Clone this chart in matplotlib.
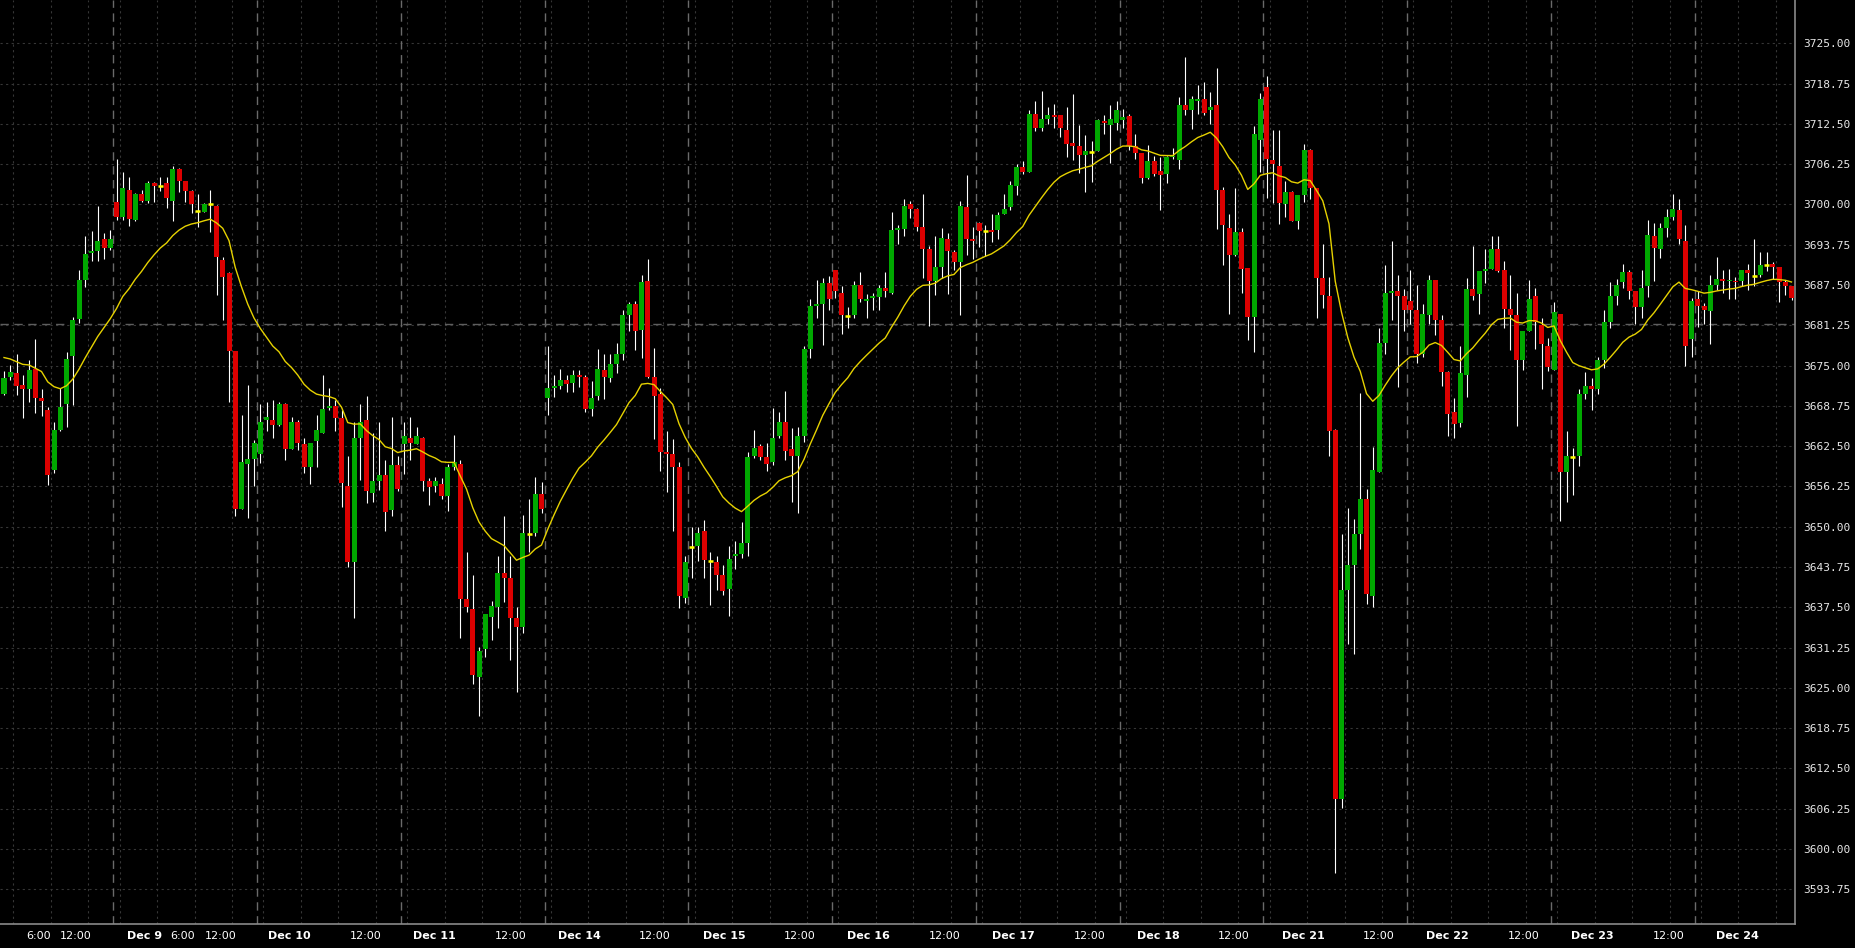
import numpy as np
import matplotlib
matplotlib.use("Agg")
import matplotlib.pyplot as plt

# hourly bars (index 0 = first bar at the left edge)
opens = [
    3670.65, 3673.3, 3673.8, 3671.95, 3671.4, 3674.4, 3670.0, 3668.1, 3658.8, 3665.0,
    3669.05, 3676.5, 3682.2, 3688.3, 3692.4, 3692.8, 3694.6, 3693.3, 3700.4, 3698.1,
    3702.2, 3697.6, 3701.6, 3700.5, 3703.4, 3702.8, 3703.4, 3700.5, 3705.55, 3703.6,
    3702.1, 3699.0, 3698.9, 3700.0, 3699.8, 3691.4, 3689.3, 3677.2, 3652.8, 3659.75,
    3660.5, 3661.3, 3666.6, 3666.6, 3665.8, 3669.05, 3662.1, 3666.3, 3662.85, 3659.3,
    3663.3, 3664.6, 3668.4, 3668.8, 3666.9, 3656.3, 3644.6, 3663.8, 3666.6, 3655.3,
    3657.1, 3658.05, 3652.6, 3659.6, 3662.85, 3663.7, 3662.85, 3663.8, 3657.1, 3656.3,
    3656.7, 3654.8, 3659.2, 3659.75, 3638.8, 3637.25, 3626.75, 3631.05, 3636.05, 3637.6,
    3642.9, 3642.1, 3635.9, 3634.5, 3648.9, 3649.0, 3655.1, 3670.0, 3671.6, 3671.9,
    3672.8, 3672.35, 3673.5, 3673.25, 3668.3, 3670.35, 3674.3, 3673.1, 3675.25, 3676.8,
    3682.85, 3684.55, 3680.5, 3688.1, 3673.3, 3670.6, 3661.65, 3661.3, 3659.2, 3638.9,
    3646.9, 3647.05, 3649.35, 3644.75, 3644.55, 3642.5, 3640.35, 3645.4, 3645.8, 3647.55,
    3661.0, 3662.5, 3660.8, 3660.1, 3664.1, 3666.25, 3662.0, 3660.9, 3664.1, 3677.6,
    3684.3, 3684.55, 3687.8, 3689.8, 3686.2, 3682.75, 3682.85, 3687.5, 3685.1, 3685.55,
    3685.6, 3687.05, 3686.3, 3696.0, 3696.15, 3700.1, 3699.3, 3696.45, 3693.1, 3688.2,
    3690.35, 3694.6, 3692.6, 3691.1, 3699.55, 3694.65, 3697.1, 3695.95, 3696.05, 3696.05,
    3698.5, 3699.65, 3702.9, 3705.75, 3705.0, 3714.0, 3711.9, 3713.25, 3713.9, 3713.9,
    3711.55, 3709.5, 3709.1, 3707.6, 3708.2, 3708.35, 3712.85, 3712.4, 3712.7, 3713.1,
    3713.8, 3709.0, 3708.0, 3704.1, 3706.8, 3705.2, 3704.8, 3707.3, 3706.9, 3715.4,
    3714.6, 3716.0, 3716.35, 3714.6, 3715.4, 3702.2, 3696.4, 3692.2, 3695.8, 3690.2,
    3682.6, 3710.0, 3718.2, 3706.9, 3705.9, 3700.0, 3702.0, 3697.5, 3701.45, 3708.5,
    3702.5, 3688.6, 3685.8, 3665.0, 3607.8, 3640.2, 3644.1, 3648.85, 3654.3, 3639.3,
    3658.55, 3678.55, 3686.2, 3686.55, 3685.8, 3685.0, 3683.6, 3676.8, 3682.85, 3688.3,
    3682.1, 3674.05, 3667.75, 3666.15, 3673.55, 3686.9, 3686.1, 3689.6, 3690.0, 3693.1,
    3689.8, 3683.8, 3682.85, 3675.9, 3680.4, 3685.8, 3681.3, 3678.0, 3674.3, 3683.0,
    3658.55, 3660.85, 3660.9, 3670.6, 3671.85, 3671.4, 3675.85, 3681.8, 3685.85, 3687.9,
    3689.5, 3686.6, 3684.1, 3687.35, 3695.1, 3693.1, 3696.4, 3698.05, 3699.1, 3694.3,
    3679.1, 3685.3, 3684.3, 3683.4, 3687.5, 3688.5, 3688.05, 3688.2, 3688.2, 3689.8,
    3688.9, 3689.05, 3690.6, 3690.75, 3690.25, 3687.9, 3687.35,
]
highs = [
    3674.1, 3675.1, 3676.8, 3673.5, 3675.9, 3679.2, 3671.3, 3668.6, 3666.3, 3671.5,
    3677.1, 3682.6, 3689.8, 3695.1, 3695.9, 3699.8, 3695.5, 3696.0, 3707.0, 3705.0,
    3704.3, 3701.8, 3702.2, 3703.6, 3703.5, 3704.3, 3704.3, 3705.9, 3705.6, 3703.7,
    3702.2, 3701.6, 3700.2, 3702.2, 3699.9, 3691.9, 3689.5, 3677.3, 3667.3, 3672.0,
    3663.4, 3669.05, 3669.4, 3669.6, 3669.4, 3669.2, 3667.0, 3666.6, 3663.7, 3663.0,
    3667.3, 3673.5, 3671.5, 3669.6, 3668.1, 3661.0, 3666.2, 3669.05, 3670.3, 3664.6,
    3666.2, 3660.4, 3667.0, 3661.0, 3666.3, 3667.0, 3665.5, 3664.0, 3657.5, 3657.7,
    3657.5, 3659.7, 3664.2, 3660.35, 3646.1, 3642.5, 3631.3, 3636.5, 3638.5, 3645.4,
    3651.6, 3645.5, 3637.6, 3651.8, 3654.3, 3657.7, 3656.9, 3678.0, 3673.5, 3674.4,
    3673.5, 3674.3, 3674.3, 3673.5, 3672.65, 3677.6, 3676.8, 3676.8, 3678.5, 3683.6,
    3684.8, 3685.0, 3689.05, 3691.5, 3677.7, 3671.5, 3664.85, 3663.6, 3660.0, 3645.5,
    3650.0, 3650.0, 3651.05, 3646.1, 3645.5, 3644.05, 3647.05, 3647.8, 3650.75, 3661.6,
    3665.0, 3662.9, 3663.05, 3668.5, 3667.8, 3671.1, 3665.3, 3665.4, 3678.05, 3685.4,
    3688.3, 3688.55, 3688.9, 3689.85, 3687.35, 3684.05, 3688.1, 3689.5, 3686.1, 3686.3,
    3687.5, 3689.5, 3698.9, 3696.8, 3700.85, 3700.5, 3699.4, 3701.7, 3693.55, 3695.1,
    3696.3, 3695.5, 3693.0, 3700.5, 3704.55, 3696.5, 3697.3, 3696.8, 3698.5, 3698.8,
    3701.6, 3703.6, 3706.2, 3706.8, 3714.65, 3716.05, 3717.6, 3715.1, 3715.6, 3713.95,
    3715.1, 3717.1, 3712.3, 3710.8, 3709.85, 3713.2, 3713.9, 3715.4, 3716.05, 3714.8,
    3714.1, 3710.9, 3708.0, 3709.2, 3707.5, 3707.3, 3707.5, 3708.7, 3716.7, 3722.8,
    3716.9, 3718.6, 3718.95, 3717.4, 3721.1, 3702.7, 3698.5, 3702.5, 3696.3, 3690.2,
    3712.2, 3717.3, 3719.9, 3711.5, 3711.5, 3703.7, 3702.1, 3701.5, 3709.4, 3708.6,
    3702.6, 3693.9, 3688.7, 3665.1, 3648.85, 3652.9, 3651.2, 3670.7, 3655.85, 3662.3,
    3680.9, 3690.6, 3694.3, 3689.05, 3686.9, 3689.8, 3687.5, 3684.5, 3689.05, 3688.35,
    3682.85, 3674.1, 3670.0, 3678.0, 3688.6, 3693.55, 3689.6, 3693.1, 3695.15, 3695.15,
    3691.2, 3689.05, 3686.2, 3680.4, 3688.3, 3687.1, 3682.4, 3679.3, 3684.8, 3683.0,
    3664.85, 3662.2, 3671.3, 3674.05, 3673.0, 3676.4, 3683.7, 3687.9, 3688.5, 3690.75,
    3689.8, 3686.6, 3689.8, 3697.6, 3697.1, 3697.1, 3699.3, 3701.7, 3700.85, 3696.8,
    3685.45, 3686.6, 3684.65, 3689.05, 3691.8, 3689.8, 3690.0, 3688.7, 3689.85, 3690.75,
    3694.6, 3692.7, 3692.7, 3691.1, 3690.3, 3688.3, 3687.4,
]
lows = [
    3670.5, 3672.7, 3670.4, 3666.9, 3669.3, 3667.7, 3667.2, 3656.4, 3658.4, 3664.8,
    3665.4, 3668.9, 3681.6, 3687.2, 3691.3, 3691.3, 3691.5, 3692.9, 3697.6, 3697.6,
    3696.7, 3697.4, 3700.4, 3700.3, 3700.4, 3702.1, 3699.4, 3697.4, 3702.0, 3700.4,
    3698.7, 3696.5, 3698.8, 3695.8, 3686.0, 3682.0, 3669.4, 3651.7, 3652.7, 3651.4,
    3656.3, 3659.95, 3664.9, 3663.7, 3665.7, 3660.3, 3662.0, 3661.9, 3658.3, 3656.6,
    3659.2, 3664.5, 3668.1, 3664.9, 3653.1, 3643.7, 3635.9, 3657.2, 3653.75, 3653.9,
    3655.7, 3649.4, 3651.7, 3655.5, 3658.2, 3660.4, 3662.8, 3655.5, 3653.4, 3655.4,
    3654.3, 3652.5, 3658.8, 3632.7, 3636.7, 3625.6, 3620.7, 3629.85, 3632.4, 3634.35,
    3638.4, 3629.3, 3624.4, 3633.5, 3646.1, 3648.5, 3652.1, 3667.3, 3670.2, 3671.4,
    3670.95, 3670.95, 3671.7, 3667.75, 3667.2, 3669.65, 3669.8, 3672.5, 3673.8, 3675.8,
    3680.4, 3677.4, 3676.2, 3673.0, 3663.6, 3658.65, 3655.4, 3649.4, 3637.45, 3638.2,
    3642.1, 3644.75, 3642.0, 3637.9, 3640.2, 3639.4, 3636.2, 3643.5, 3645.2, 3645.4,
    3660.7, 3660.3, 3658.7, 3659.6, 3663.7, 3660.4, 3653.9, 3652.2, 3663.2, 3676.2,
    3682.4, 3678.2, 3683.6, 3685.55, 3679.9, 3680.9, 3682.4, 3684.9, 3682.4, 3683.55,
    3683.6, 3685.7, 3686.05, 3693.9, 3695.1, 3697.95, 3695.9, 3688.6, 3681.2, 3685.95,
    3688.6, 3686.1, 3689.9, 3682.85, 3692.15, 3691.6, 3693.45, 3692.0, 3694.2, 3694.65,
    3698.45, 3699.15, 3701.5, 3704.7, 3705.0, 3711.45, 3711.45, 3712.5, 3711.8, 3710.5,
    3707.4, 3706.9, 3704.95, 3702.0, 3703.5, 3708.3, 3710.9, 3706.5, 3711.6, 3711.8,
    3708.45, 3707.05, 3703.4, 3703.95, 3704.4, 3699.1, 3703.4, 3707.05, 3705.55, 3713.85,
    3711.75, 3714.0, 3713.85, 3712.5, 3696.2, 3690.6, 3683.0, 3692.05, 3686.2, 3679.0,
    3677.1, 3705.0, 3701.0, 3700.2, 3697.0, 3698.1, 3697.4, 3696.25, 3700.35, 3700.8,
    3682.35, 3683.9, 3661.0, 3596.3, 3606.4, 3631.85, 3630.2, 3646.5, 3638.0, 3637.5,
    3658.5, 3676.75, 3682.1, 3671.7, 3680.3, 3681.4, 3675.45, 3676.4, 3681.4, 3679.75,
    3671.9, 3664.1, 3663.7, 3665.4, 3670.2, 3685.2, 3682.95, 3687.8, 3690.0, 3689.5,
    3680.8, 3677.4, 3665.7, 3674.3, 3680.3, 3677.6, 3671.4, 3674.2, 3674.3, 3650.95,
    3653.9, 3654.9, 3659.5, 3669.8, 3668.1, 3670.55, 3674.7, 3680.8, 3684.4, 3687.0,
    3685.4, 3681.45, 3682.4, 3685.7, 3688.1, 3691.7, 3695.0, 3697.6, 3693.9, 3675.0,
    3676.4, 3680.95, 3681.45, 3678.35, 3686.7, 3686.2, 3685.3, 3685.3, 3687.35, 3686.7,
    3687.35, 3688.7, 3689.7, 3688.4, 3684.9, 3685.95, 3685.2,
]
closes = [
    3673.1, 3674.0, 3671.9, 3671.4, 3674.3, 3670.0, 3669.5, 3658.0, 3665.0, 3668.6,
    3676.0, 3682.1, 3688.3, 3692.3, 3692.8, 3694.3, 3693.3, 3694.6, 3698.1, 3702.6,
    3697.7, 3701.6, 3700.5, 3703.4, 3702.9, 3702.8, 3701.05, 3705.55, 3703.6, 3702.1,
    3700.1, 3699.0, 3700.1, 3700.0, 3691.9, 3688.8, 3677.2, 3652.8, 3660.05, 3660.5,
    3662.95, 3666.3, 3667.0, 3665.8, 3669.05, 3662.1, 3666.3, 3663.05, 3659.3, 3662.95,
    3665.0, 3668.3, 3668.8, 3666.9, 3656.8, 3644.6, 3663.7, 3666.3, 3655.6, 3657.1,
    3658.05, 3652.35, 3659.6, 3655.9, 3664.1, 3662.95, 3664.1, 3657.15, 3656.1, 3657.1,
    3654.8, 3659.2, 3660.05, 3638.8, 3637.6, 3627.0, 3630.7, 3636.5, 3637.7, 3642.9,
    3642.1, 3635.9, 3634.5, 3649.0, 3648.9, 3655.1, 3652.7, 3671.6, 3671.9, 3672.8,
    3672.1, 3673.5, 3673.25, 3668.3, 3670.0, 3674.5, 3673.3, 3675.25, 3676.8, 3682.85,
    3684.55, 3680.4, 3687.9, 3673.3, 3670.35, 3661.65, 3661.35, 3659.3, 3639.2, 3644.55,
    3646.9, 3649.0, 3644.85, 3644.75, 3642.5, 3640.05, 3645.0, 3645.8, 3647.45, 3660.8,
    3662.2, 3660.8, 3659.8, 3663.8, 3666.25, 3661.8, 3660.9, 3664.1, 3677.6, 3684.25,
    3684.6, 3687.8, 3685.3, 3686.6, 3682.85, 3682.75, 3687.5, 3685.3, 3685.4, 3685.85,
    3687.0, 3686.6, 3696.0, 3696.4, 3699.8, 3699.3, 3696.55, 3693.1, 3688.2, 3690.25,
    3694.75, 3692.8, 3691.1, 3699.75, 3694.65, 3694.3, 3695.95, 3695.95, 3695.8, 3698.4,
    3699.3, 3703.0, 3705.75, 3705.0, 3714.0, 3711.9, 3713.25, 3713.9, 3713.6, 3711.9,
    3709.4, 3709.1, 3707.6, 3708.3, 3708.2, 3713.1, 3712.6, 3713.25, 3714.65, 3713.5,
    3709.1, 3708.0, 3704.1, 3706.8, 3704.8, 3704.6, 3707.3, 3707.5, 3715.4, 3714.6,
    3716.35, 3716.35, 3714.25, 3715.1, 3702.2, 3696.85, 3692.2, 3695.8, 3690.05, 3682.6,
    3711.0, 3716.35, 3707.05, 3706.2, 3700.2, 3701.9, 3697.5, 3701.45, 3708.5, 3702.5,
    3688.6, 3686.0, 3664.8, 3607.8, 3640.2, 3644.1, 3648.85, 3654.3, 3639.5, 3658.8,
    3678.55, 3686.2, 3686.55, 3685.8, 3683.6, 3683.6, 3676.8, 3683.0, 3688.3, 3682.1,
    3674.05, 3667.5, 3665.9, 3673.8, 3686.9, 3685.85, 3689.6, 3690.0, 3693.1, 3689.6,
    3683.8, 3682.85, 3675.9, 3680.4, 3685.4, 3681.7, 3678.35, 3674.85, 3683.25, 3658.55,
    3660.95, 3660.85, 3670.6, 3671.85, 3671.4, 3675.85, 3681.8, 3685.85, 3687.5, 3689.5,
    3686.6, 3684.1, 3687.1, 3695.25, 3693.3, 3696.4, 3698.05, 3699.3, 3694.65, 3678.1,
    3685.05, 3684.3, 3683.6, 3687.5, 3688.5, 3688.1, 3688.2, 3687.9, 3689.8, 3689.4,
    3688.9, 3690.6, 3690.6, 3690.25, 3687.9, 3687.35, 3685.55,
]

day_labels = ["Dec 9", "Dec 10", "Dec 11", "Dec 14", "Dec 15", "Dec 16",
              "Dec 17", "Dec 18", "Dec 21", "Dec 22", "Dec 23", "Dec 24"]
y_ticks = [3593.75 + 6.25 * k for k in range(22)]
ema_start = 3676.6   # yellow average at the left edge
ema_alpha = 0.1
price_line = 3681.5

o = np.array(opens)
h = np.array(highs)
l = np.array(lows)
c = np.array(closes)
x = np.arange(len(c))

# yellow line: exponential average of the closes
ema = []
prev = ema_start
for v in c:
    prev = prev + ema_alpha * (v - prev)
    ema.append(prev)

fig = plt.figure(figsize=(18.55, 9.48), dpi=100, facecolor="black")
ax = fig.add_axes([0, 24 / 948, 1795 / 1855, 924 / 948])
ax.set_facecolor("black")

# grid
for yv in y_ticks:
    ax.axhline(yv, color="#363636", lw=0.8, ls=(0, (2, 3)), zorder=0)
for k in range(-1, 13):
    base = 18.5 + 23 * k
    for m in range(4):
        ax.axvline(base + 6 * m, color="#363636", lw=0.8, ls=(0, (2, 3)), zorder=0)
for k in range(12):
    ax.axvline(17.5 + 23 * k, color="#6a6a6a", lw=1.0, ls=(0, (6, 4)), zorder=1)
ax.axhline(price_line, color="#5e5e5e", lw=1.0, ls=(0, (6, 4)), zorder=1)

# candles
ax.vlines(x, l, h, color="white", lw=0.8, zorder=2)
up = c > o
dn = c < o
eq = c == o
hgt = np.maximum(np.abs(c - o), 0.28)
ax.bar(x[up], hgt[up], bottom=o[up], width=0.8, color="#00a800", lw=0, zorder=3)
ax.bar(x[dn], hgt[dn], bottom=c[dn], width=0.8, color="#dc0000", lw=0, zorder=3)
ax.hlines(c[eq], x[eq] - 0.4, x[eq] + 0.4, color="#ffff00", lw=1.8, zorder=3)

ax.plot(x, ema, color="#e6d200", lw=1.0, zorder=4)

ax.set_xlim(-0.64, 286.56)
ax.set_ylim(3588.37, 3731.72)

# axes
for s in ["top", "left"]:
    ax.spines[s].set_visible(False)
for s in ["right", "bottom"]:
    ax.spines[s].set_color("#8a8a8a")
    ax.spines[s].set_linewidth(1.2)

ax.yaxis.tick_right()
ax.set_yticks(y_ticks)
ax.set_yticklabels(["%.2f" % v for v in y_ticks], family="DejaVu Sans Mono")
ax.tick_params(axis="y", length=0, pad=6, labelsize=8, labelcolor="#e8e8e8")

xt, xl = [], []
xt += [5.52, 28.64]
xl += ["6:00", "6:00"]
for k, name in enumerate(day_labels):
    xt.append(22.56 + 23.16 * k)
    xl.append(name)
    xt.append(11.52 + 23.16 * k)
    xl.append("12:00")
ax.set_xticks(xt)
ax.set_xticklabels(xl)
ax.tick_params(axis="x", length=0, pad=5, labelsize=8, labelcolor="white")
for t in ax.get_xticklabels():
    if t.get_text().startswith("Dec"):
        t.set_fontweight("bold")

fig.savefig("out.png", dpi=100, facecolor="black")
